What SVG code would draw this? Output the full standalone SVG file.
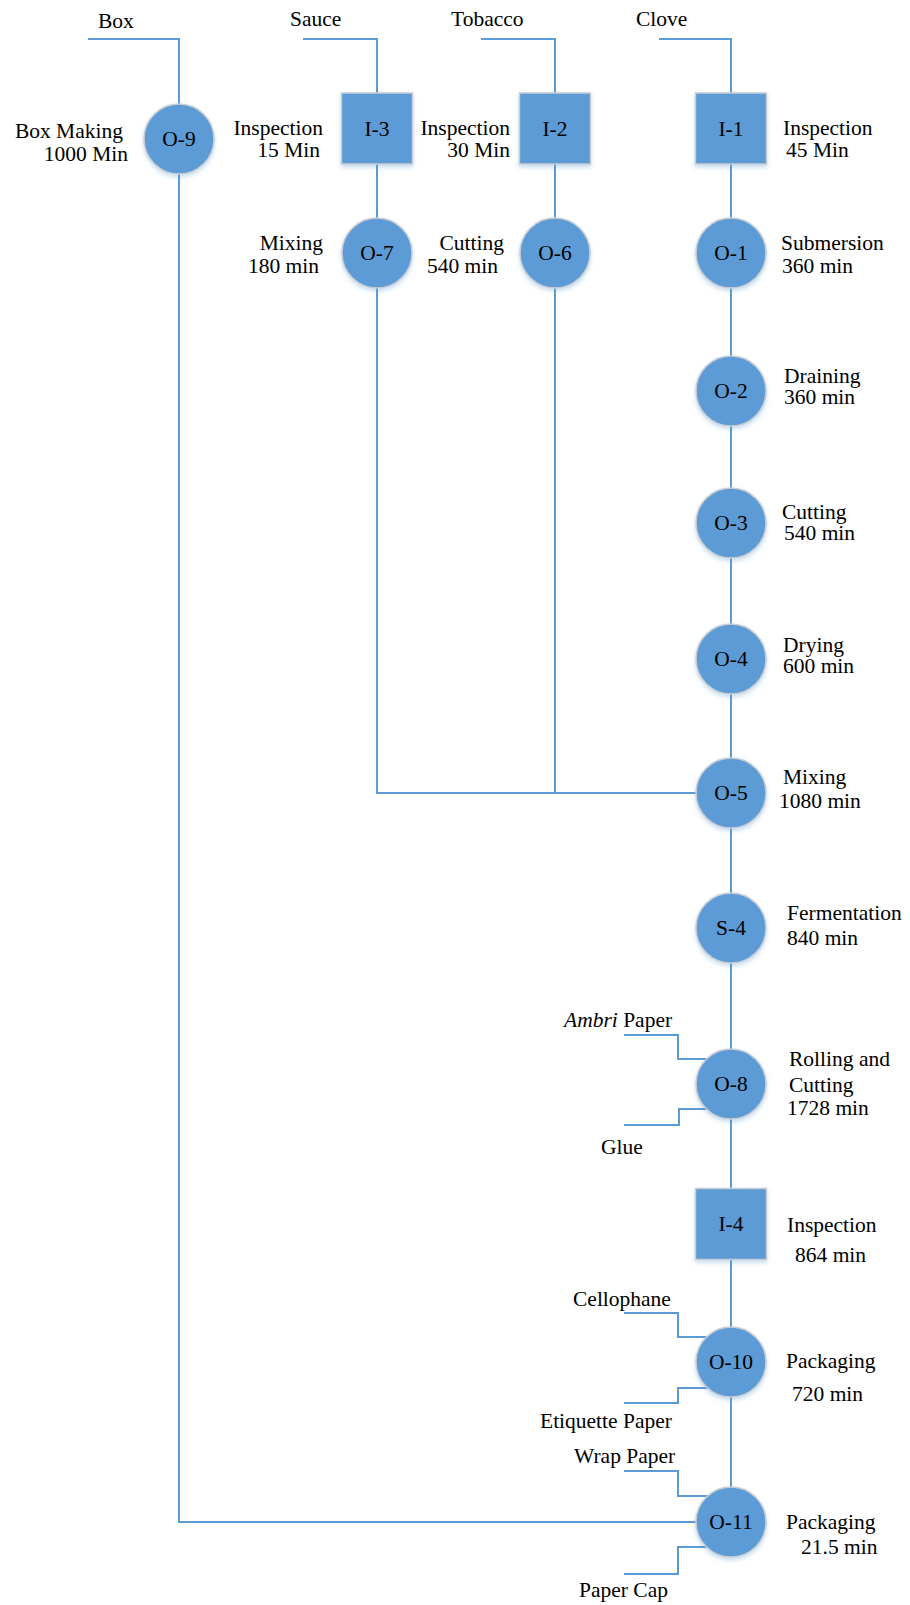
<svg xmlns="http://www.w3.org/2000/svg" width="910" height="1605" viewBox="0 0 910 1605">
  <style>
    .bg { fill: #ffffff; }
    .flow { fill: none; stroke: #5B9BD5; stroke-width: 2; }
    .op { fill: #5B9BD5; stroke: #C9CDD3; stroke-width: 1.5; filter: url(#soft); }
    .insp { fill: #5B9BD5; stroke: #C9CDD3; stroke-width: 1.5; filter: url(#soft); }
    text { font-family: "Liberation Serif", "Times New Roman", serif; font-size: 21.5px; fill: #000000; }
    .id { text-anchor: middle; }
    .end { text-anchor: end; }
  </style>
  <defs>
    <filter id="soft" x="-30%" y="-30%" width="160%" height="170%">
      <feDropShadow dx="0" dy="2.5" stdDeviation="2" flood-color="#5B9BD5" flood-opacity="0.35"/>
    </filter>
  </defs>

  <rect class="bg" x="0" y="0" width="910" height="1605"/>

  <!-- connectors -->
  <g id="connectors">
    <path class="flow" d="M88,39 H179 V1522 H731"/>
    <path class="flow" d="M303,39 H377 V793 H731"/>
    <path class="flow" d="M481,39 H555 V793"/>
    <path class="flow" d="M659,39 H731 V1522"/>
    <path class="flow" d="M624,1035 H678 V1059 H720"/>
    <path class="flow" d="M624,1125 H679 V1109 H720"/>
    <path class="flow" d="M624,1313 H678 V1337 H720"/>
    <path class="flow" d="M624,1403 H678 V1388 H720"/>
    <path class="flow" d="M624,1471 H678 V1496 H720"/>
    <path class="flow" d="M624,1574 H678 V1547 H720"/>
  </g>

  <!-- raw material labels -->
  <g id="inputs">
    <text x="98" y="28">Box</text>
    <text x="290" y="26">Sauce</text>
    <text x="451" y="26">Tobacco</text>
    <text x="636" y="26">Clove</text>
    <text x="564" y="1027"><tspan font-style="italic">Ambri</tspan> Paper</text>
    <text x="601" y="1154">Glue</text>
    <text x="573" y="1306">Cellophane</text>
    <text x="540" y="1428">Etiquette Paper</text>
    <text x="574" y="1463">Wrap Paper</text>
    <text x="579" y="1597">Paper Cap</text>
  </g>

  <g id="O-9">
    <circle class="op" cx="179" cy="139" r="35"/>
    <text class="id" x="179" y="146">O-9</text>
    <text class="end" x="123" y="138">Box Making</text>
    <text class="end" x="128" y="161">1000 Min</text>
  </g>

  <g id="I-3">
    <rect class="insp" x="341.5" y="93" width="71" height="71"/>
    <text class="id" x="377" y="135.5">I-3</text>
    <text class="end" x="323" y="135">Inspection</text>
    <text class="end" x="320" y="157">15 Min</text>
  </g>

  <g id="I-2">
    <rect class="insp" x="519.5" y="93" width="71" height="71"/>
    <text class="id" x="555" y="135.5">I-2</text>
    <text class="end" x="510" y="135">Inspection</text>
    <text class="end" x="510" y="157">30 Min</text>
  </g>

  <g id="I-1">
    <rect class="insp" x="695.5" y="93" width="71" height="71"/>
    <text class="id" x="731" y="135.5">I-1</text>
    <text x="783" y="135">Inspection</text>
    <text x="786" y="157">45 Min</text>
  </g>

  <g id="O-7">
    <circle class="op" cx="377" cy="253" r="35"/>
    <text class="id" x="377" y="260">O-7</text>
    <text class="end" x="323" y="250">Mixing</text>
    <text class="end" x="319" y="273">180 min</text>
  </g>

  <g id="O-6">
    <circle class="op" cx="555" cy="253" r="35"/>
    <text class="id" x="555" y="260">O-6</text>
    <text class="end" x="504" y="250">Cutting</text>
    <text class="end" x="498" y="273">540 min</text>
  </g>

  <g id="O-1">
    <circle class="op" cx="731" cy="253" r="35"/>
    <text class="id" x="731" y="260">O-1</text>
    <text x="781" y="250">Submersion</text>
    <text x="782" y="273">360 min</text>
  </g>

  <g id="O-2">
    <circle class="op" cx="731" cy="391" r="35"/>
    <text class="id" x="731" y="398">O-2</text>
    <text x="784" y="383">Draining</text>
    <text x="784" y="404">360 min</text>
  </g>

  <g id="O-3">
    <circle class="op" cx="731" cy="523" r="35"/>
    <text class="id" x="731" y="530">O-3</text>
    <text x="782" y="519">Cutting</text>
    <text x="784" y="540">540 min</text>
  </g>

  <g id="O-4">
    <circle class="op" cx="731" cy="659" r="35"/>
    <text class="id" x="731" y="666">O-4</text>
    <text x="783" y="652">Drying</text>
    <text x="783" y="673">600 min</text>
  </g>

  <g id="O-5">
    <circle class="op" cx="731" cy="793" r="35"/>
    <text class="id" x="731" y="800">O-5</text>
    <text x="783" y="784">Mixing</text>
    <text x="779" y="808">1080 min</text>
  </g>

  <g id="S-4">
    <circle class="op" cx="731" cy="928" r="35"/>
    <text class="id" x="731" y="935">S-4</text>
    <text x="787" y="920">Fermentation</text>
    <text x="787" y="945">840 min</text>
  </g>

  <g id="O-8">
    <circle class="op" cx="731" cy="1084" r="35"/>
    <text class="id" x="731" y="1091">O-8</text>
    <text x="789" y="1066">Rolling and</text>
    <text x="789" y="1092">Cutting</text>
    <text x="787" y="1115">1728 min</text>
  </g>

  <g id="I-4">
    <rect class="insp" x="695.5" y="1188.5" width="71" height="71"/>
    <text class="id" x="731" y="1231">I-4</text>
    <text x="787" y="1232">Inspection</text>
    <text x="795" y="1262">864 min</text>
  </g>

  <g id="O-10">
    <circle class="op" cx="731" cy="1362" r="35"/>
    <text class="id" x="731" y="1369">O-10</text>
    <text x="786" y="1368">Packaging</text>
    <text x="792" y="1401">720 min</text>
  </g>

  <g id="O-11">
    <circle class="op" cx="731" cy="1522" r="35"/>
    <text class="id" x="731" y="1529">O-11</text>
    <text x="786" y="1529">Packaging</text>
    <text x="801" y="1554">21.5 min</text>
  </g>
</svg>
